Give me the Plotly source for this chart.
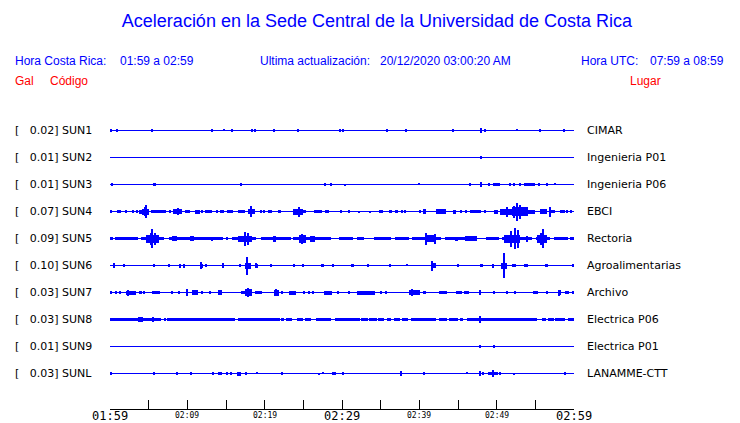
import plotly.graph_objects as go

# ---------------- data ----------------
STATIONS = ["SUN1", "SUN2", "SUN3", "SUN4", "SUN5", "SUN6", "SUN7", "SUN8", "SUN9", "SUNL"]
PEAK_GAL = [0.02, 0.01, 0.01, 0.07, 0.09, 0.10, 0.03, 0.03, 0.01, 0.03]
PLACES = ["CIMAR", "Ingenieria P01", "Ingenieria P06", "EBCI", "Rectoria",
          "Agroalimentarias", "Archivo", "Electrica P06", "Electrica P01", "LANAMME-CTT"]

TICK_VALS = [0, 5, 10, 15, 20, 25, 30, 35, 40, 45, 50, 55, 60]          # minutes after 01:59
MAJOR_LABELS = {0: "01:59", 30: "02:29", 60: "02:59"}
MINOR_LABELS = {10: "02:09", 20: "02:19", 40: "02:39", 50: "02:49"}

# short spikes: (minute, half amplitude in px)
SUN1_SPIKES = [(0.13, 1.4), (0.86, 1.4), (14.78, 0.8), (15.73, 1.4), (18.4, 1.4), (18.79, 1.4),
               (21.16, 1.4), (24.35, 1.4), (29.7, 1.4), (30.2, 1.4), (35.78, 1.4), (38.23, 1.4),
               (44.31, 1.4), (47.93, 2.7), (48.53, 1.4), (52.59, 0.8), (55.65, 1.4), (58.66, 1.4)]
SUN2_SPIKES = [(47.93, 1.7)]
SUN3_SPIKES = [(16.98, 1.4), (27.84, 1.4), (28.53, 1.4), (30.43, 1.0), (40.0, 0.8), (46.5, 1.4),
               (47.93, 2.7), (48.97, 1.4), (51.68, 1.4), (52.2, 1.4), (56.55, 1.4), (57.6, 0.8)]
SUN4_SPIKES = [(2.1, 1.3), (3.0, 1.3), (3.5, 1.5), (4.7, 6.5), (4.5, 4.5), (7.8, 1.3), (8.8, 3.2),
               (11.95, 1.3), (13.8, 1.3), (18.25, 5.5), (19.55, 1.3), (19.95, 1.3), (21.85, 1.3),
               (22.05, 1.3), (24.45, 5.0), (29.9, 1.3), (30.95, 1.3), (32.25, 1.0), (33.65, 1.0),
               (37.75, 1.3), (38.15, 1.3), (45.45, 1.3), (46.05, 1.3), (48.55, 1.3), (51.35, 5.0),
               (52.65, 9.0), (53.05, 7.0), (52.3, 6.0), (56.85, 5.0), (59.1, 1.3), (59.65, 1.3)]
SUN5_SPIKES = [(5.5, 9.5), (5.3, 6.0), (5.8, 6.0), (17.5, 7.0), (17.9, 6.0), (24.9, 5.0), (40.9, 6.0),
               (42.0, 5.0), (51.9, 8.0), (52.4, 10.5), (52.8, 9.0), (53.9, 3.0), (56.0, 9.5), (55.7, 6.0)]
SUN6_SPIKES = [(0.56, 2.3), (1.85, 1.3), (9.1, 2.0), (9.6, 2.0), (11.8, 3.3), (12.4, 1.3), (14.6, 2.5),
               (16.8, 1.3), (17.75, 9.0), (18.9, 2.5), (23.8, 1.5), (25.0, 1.5), (28.8, 1.3),
               (33.4, 1.5), (36.2, 1.5), (38.4, 0.8), (41.7, 5.0), (45.0, 1.3), (49.6, 2.0),
               (50.9, 12.5), (59.9, 1.3)]
SUN7_SPIKES = [(1.3, 1.3), (2.4, 3.0), (4.4, 1.3), (8.0, 1.3), (8.9, 1.3), (10.0, 3.3), (11.9, 1.3),
               (13.0, 1.3), (17.9, 4.5), (21.5, 3.5), (22.2, 1.3), (25.1, 1.3), (25.7, 1.3),
               (26.3, 1.3), (29.5, 1.3), (30.9, 1.3), (35.0, 1.3), (35.7, 1.3), (39.0, 3.5),
               (47.9, 2.5), (49.7, 1.3), (51.4, 1.3), (52.4, 1.3), (56.5, 1.3), (58.1, 3.0)]
SUN8_SPIKES = [(3.8, 2.5), (4.1, 2.5), (5.6, 2.5), (47.9, 3.5)]
SUN9_SPIKES = [(47.9, 1.5), (49.7, 1.5)]
SUNL_SPIKES = [(0.13, 1.5), (5.7, 1.3), (8.7, 1.3), (13.3, 1.3), (14.4, 1.3), (15.2, 1.3), (15.7, 1.3),
               (17.6, 1.5), (19.0, 0.8), (22.3, 1.3), (27.0, 1.0), (27.5, 0.8), (29.1, 1.3),
               (30.2, 1.5), (37.6, 2.5), (46.2, 0.8), (47.9, 2.5), (48.3, 1.3), (49.6, 3.5),
               (50.4, 1.5), (52.2, 1.0), (58.8, 1.3)]

# sustained activity: (start minute, end minute, half amplitude in px)
SUN1_BURSTS = [(5.25, 5.55, 1.4), (13.0, 13.3, 1.4)]
SUN2_BURSTS = []
SUN3_BURSTS = [(0.2, 0.45, 1.7), (5.6, 5.95, 1.7), (47.8, 48.1, 2.0), (49.57, 50.43, 1.7),
               (52.84, 53.1, 1.4), (53.5, 54.96, 1.7), (55.3, 55.6, 1.4)]
SUN4_BURSTS = [(0.0, 0.3, 1.5), (0.9, 1.4, 1.5), (3.7, 4.2, 2.0), (4.2, 5.1, 3.0), (5.3, 6.3, 1.7),
               (6.3, 7.3, 1.5), (8.2, 9.3, 2.5), (9.7, 10.3, 1.3), (11.0, 11.6, 2.0), (12.3, 13.2, 1.7),
               (14.2, 14.7, 1.5), (15.1, 15.9, 1.7), (16.5, 17.4, 1.5), (17.8, 18.8, 2.5),
               (20.4, 20.9, 1.3), (23.7, 24.9, 3.0), (25.0, 25.3, 1.5), (26.4, 27.4, 1.5),
               (27.8, 28.3, 1.5), (34.8, 35.3, 1.5), (36.1, 36.5, 1.3), (36.8, 37.3, 1.5),
               (39.9, 40.2, 1.3), (40.5, 40.9, 2.5), (42.1, 43.5, 2.3), (44.3, 44.8, 2.0),
               (46.5, 48.0, 1.8), (49.6, 50.2, 2.0), (50.4, 52.0, 3.0), (52.0, 54.0, 4.5),
               (54.0, 55.0, 2.0), (55.6, 56.5, 2.5), (57.0, 57.5, 1.5), (58.2, 58.8, 1.5)]
SUN5_BURSTS = [(0.0, 0.4, 1.5), (0.6, 3.6, 1.5), (4.0, 7.0, 1.5), (7.6, 14.6, 1.5), (15.0, 15.2, 1.5),
               (15.8, 18.9, 1.5), (19.5, 23.4, 1.5), (23.6, 28.6, 1.5), (29.6, 31.4, 1.5),
               (32.0, 32.9, 1.5), (34.1, 36.3, 1.5), (36.9, 38.7, 1.5), (39.1, 42.8, 1.5),
               (43.3, 47.5, 1.5), (48.6, 50.3, 1.5), (50.7, 54.6, 1.5), (55.1, 56.9, 1.5),
               (57.4, 59.2, 1.5), (59.5, 60.0, 1.5),
               (4.7, 6.3, 4.0), (8.0, 8.6, 2.5), (10.3, 10.8, 2.5), (13.0, 13.3, 2.0), (16.6, 18.3, 3.0),
               (21.1, 21.5, 3.0), (24.4, 25.3, 4.0), (25.9, 26.5, 3.0), (40.7, 42.2, 3.5),
               (44.6, 45.0, 2.0), (45.9, 47.4, 2.5), (50.9, 53.0, 4.0), (55.2, 56.5, 4.0)]
SUN6_BURSTS = [(5.6, 5.85, 1.5), (7.5, 7.75, 1.5), (11.6, 12.0, 2.0), (14.45, 14.75, 2.0),
               (17.5, 18.2, 3.0), (18.75, 19.1, 2.0), (20.7, 20.95, 1.5), (27.4, 27.65, 1.5),
               (31.2, 31.5, 1.5), (41.5, 42.1, 2.5), (47.8, 48.2, 1.7), (50.5, 51.4, 3.0),
               (52.0, 52.5, 1.5), (53.5, 54.1, 1.5), (56.3, 56.7, 1.5)]
SUN7_BURSTS = [(0.0, 0.2, 1.5), (0.7, 0.9, 1.5), (2.1, 3.4, 2.0), (3.7, 4.1, 1.5), (5.4, 6.5, 1.5),
               (9.9, 10.1, 3.0), (10.6, 11.4, 2.5), (14.0, 14.5, 2.5), (17.0, 17.5, 1.7),
               (17.5, 18.3, 3.5), (18.8, 19.6, 1.7), (21.2, 21.8, 3.0), (23.1, 24.1, 2.0),
               (27.7, 28.7, 2.0), (31.9, 34.3, 2.0), (38.7, 40.1, 2.5), (40.5, 40.9, 1.5),
               (42.6, 43.6, 1.7), (44.7, 45.5, 1.5), (45.8, 46.4, 1.5), (54.7, 55.3, 1.5),
               (57.9, 58.3, 2.5), (58.8, 59.4, 1.5), (59.7, 60.0, 1.5)]
SUN8_BURSTS = [(0.0, 6.6, 1.7), (7.0, 7.3, 1.7), (7.4, 16.2, 1.7), (16.6, 22.0, 1.7), (22.1, 22.5, 1.7),
               (22.8, 23.5, 1.7), (24.2, 25.0, 1.7), (25.2, 26.0, 1.7), (26.6, 28.6, 1.7),
               (29.1, 32.3, 1.7), (32.5, 33.3, 1.7), (33.5, 34.5, 1.7), (34.7, 35.4, 1.7),
               (35.8, 36.4, 1.7), (36.7, 37.5, 1.7), (37.7, 38.5, 1.7), (38.9, 42.2, 1.7),
               (42.5, 43.6, 1.7), (43.8, 45.0, 1.7), (45.2, 45.7, 1.7), (46.2, 55.2, 1.7),
               (55.8, 56.4, 1.7), (56.6, 57.4, 1.7), (57.6, 58.8, 1.7), (59.2, 60.0, 1.7),
               (3.7, 4.3, 2.3)]
SUN9_BURSTS = []
SUNL_BURSTS = [(10.4, 10.6, 1.5), (14.0, 14.2, 1.3), (16.4, 17.0, 2.0), (28.8, 29.0, 1.3),
               (37.5, 37.7, 2.0), (40.5, 40.7, 1.7), (48.9, 50.2, 1.7)]

SPIKES = [SUN1_SPIKES, SUN2_SPIKES, SUN3_SPIKES, SUN4_SPIKES, SUN5_SPIKES,
          SUN6_SPIKES, SUN7_SPIKES, SUN8_SPIKES, SUN9_SPIKES, SUNL_SPIKES]
BURSTS = [SUN1_BURSTS, SUN2_BURSTS, SUN3_BURSTS, SUN4_BURSTS, SUN5_BURSTS,
          SUN6_BURSTS, SUN7_BURSTS, SUN8_BURSTS, SUN9_BURSTS, SUNL_BURSTS]

# ---------------- layout constants ----------------
W, H = 740, 423
L, R, T, B = 110, 166, 100, 14
PW, PH = W - L - R, H - T - B
ROW_PX = 27.0
FIRST_ROW_PX = 130.5
Y_TOP = -(FIRST_ROW_PX - T) / ROW_PX             # data value at top of plot area
Y_BOT = Y_TOP + PH / ROW_PX                      # data value at bottom of plot area
BLUE = "#0000ff"
RED = "#ff0000"
SPIKE_W = 0.15

def px_x(px):
    return (px - L) / PW

def px_y(py):
    return (T + PH - py) / PH

fig = go.Figure()

for i, name in enumerate(STATIONS):
    fig.add_trace(go.Scatter(x=[0, 60], y=[i, i], mode="lines",
                             line=dict(color=BLUE, width=1), hoverinfo="skip", showlegend=False))
    xs, ws, bases, hs = [], [], [], []
    for (a, b, h) in BURSTS[i]:
        xs.append((a + b) / 2); ws.append(b - a)
        bases.append(i - h / ROW_PX); hs.append(2 * h / ROW_PX)
    for (t, h) in SPIKES[i]:
        xs.append(t); ws.append(SPIKE_W)
        bases.append(i - h / ROW_PX); hs.append(2 * h / ROW_PX)
    if xs:
        fig.add_trace(go.Bar(x=xs, y=hs, base=bases, width=ws, marker=dict(color=BLUE, line=dict(width=0)),
                             hoverinfo="skip", showlegend=False))

annotations = []
lab_font = dict(family="DejaVu Sans", size=11, color="black")
for i, name in enumerate(STATIONS):
    annotations.append(dict(text="[\u00a0\u00a0\u00a0%.2f] %s" % (PEAK_GAL[i], name),
                            xref="paper", yref="y", x=px_x(13), y=i, xanchor="left", yanchor="middle",
                            showarrow=False, font=lab_font))
    annotations.append(dict(text=PLACES[i], xref="paper", yref="y", x=px_x(585), y=i,
                            xanchor="left", yanchor="middle", showarrow=False, font=lab_font))

hdr = dict(family="Liberation Sans, Arial", size=12)
header_items = [
    ("Hora Costa Rica:", 15, 61, BLUE), ("01:59 a 02:59", 120, 61, BLUE),
    ("Ultima actualización:", 260, 61, BLUE), ("20/12/2020 03:00:20 AM", 380, 61, BLUE),
    ("Hora UTC:", 581, 61, BLUE), ("07:59 a 08:59", 650, 61, BLUE),
    ("Gal", 15, 81, RED), ("Código", 50, 81, RED), ("Lugar", 630, 81, RED),
]
for text, x, y, c in header_items:
    annotations.append(dict(text=text, xref="paper", yref="paper", x=px_x(x - 2), y=px_y(y),
                            xanchor="left", yanchor="middle", showarrow=False,
                            font=dict(color=c, **hdr)))

for v, t in MAJOR_LABELS.items():
    annotations.append(dict(text=t, xref="x", yref="paper", x=v, y=px_y(416),
                            xanchor="center", yanchor="middle", showarrow=False,
                            font=dict(family="DejaVu Sans Mono", size=12, color="black")))
for v, t in MINOR_LABELS.items():
    annotations.append(dict(text=t, xref="x", yref="paper", x=v, y=px_y(415.5),
                            xanchor="center", yanchor="middle", showarrow=False,
                            font=dict(family="DejaVu Sans Mono", size=8, color="black")))

fig.update_layout(
    width=W, height=H,
    margin=dict(l=L, r=R, t=T, b=B, autoexpand=False),
    paper_bgcolor="white", plot_bgcolor="white",
    barmode="overlay", bargap=0,
    showlegend=False, hovermode=False,
    title=dict(text="Aceleración en la Sede Central de la Universidad de Costa Rica",
               x=377 / W, xanchor="center", y=1 - 21 / H, yanchor="middle",
               font=dict(family="Liberation Sans, Arial", size=18, color=BLUE)),
    xaxis=dict(range=[0, 60], tickvals=TICK_VALS, showticklabels=False, ticks="inside",
               ticklen=9, tickwidth=1, tickcolor="black", showline=True, linecolor="black",
               linewidth=1, showgrid=False, zeroline=False, fixedrange=True),
    yaxis=dict(range=[Y_BOT, Y_TOP], visible=False, showgrid=False, zeroline=False, fixedrange=True),
    annotations=annotations,
)

fig.write_html("out.html", config=dict(displayModeBar=False),
               post_script="document.body.style.margin='0';document.body.style.overflow='hidden';")
